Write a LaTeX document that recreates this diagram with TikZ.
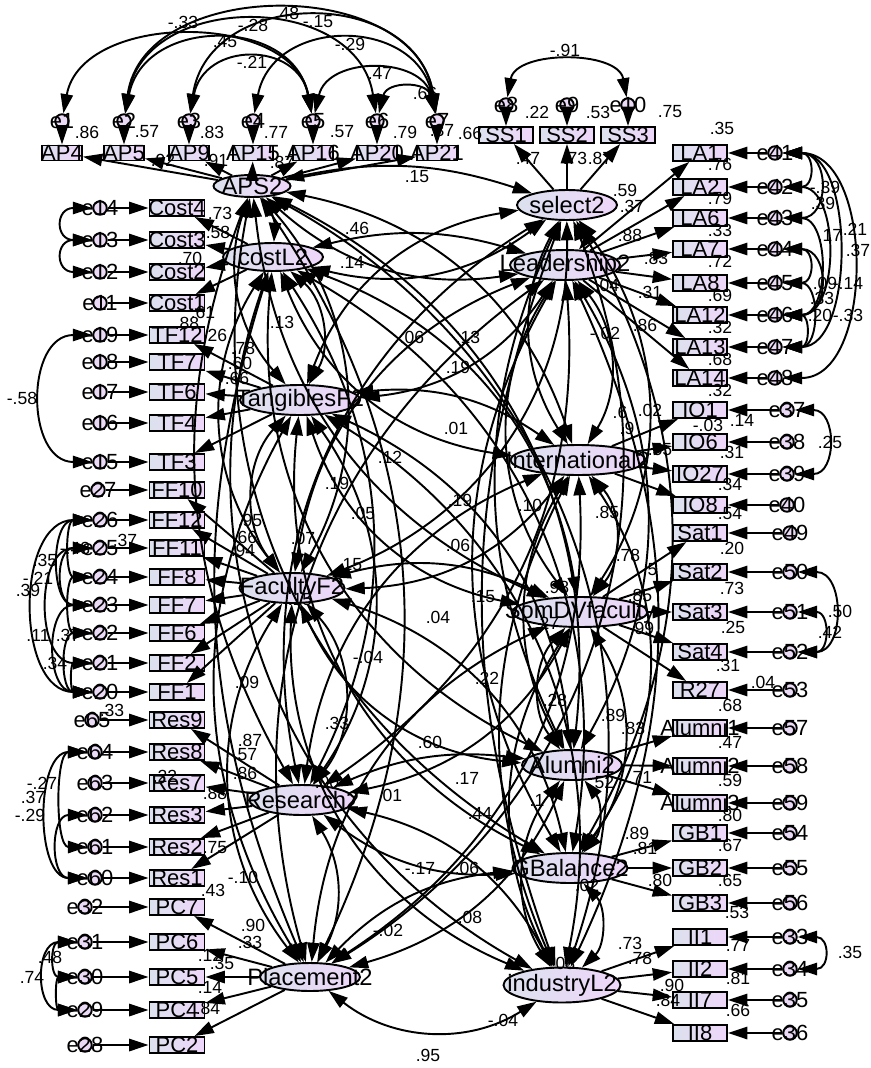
\documentclass[tikz,border=0pt]{standalone}
\usepackage{fontspec}
\setmainfont{Liberation Sans}
\usetikzlibrary{arrows.meta,shapes.geometric,calc}
\definecolor{boxL}{RGB}{220,225,238}
\definecolor{boxR}{RGB}{238,214,250}
\definecolor{errF}{RGB}{234,218,246}
\tikzset{
 x=0.02cm, y=-0.02cm,
 >={Triangle[length=11pt,width=7pt]},
 ln/.style={line width=1.1pt},
 obs/.style={draw, line width=1.1pt, rectangle, inner sep=0pt, minimum height=0.32cm, left color=boxL, right color=boxR},
 obst/.style={font=\fontsize{12.5}{12.5}\selectfont, inner sep=0pt},
 lat/.style={draw, line width=1.1pt, ellipse, inner sep=0pt, left color=boxL, right color=boxR},
 latt/.style={font=\fontsize{13.5}{13.5}\selectfont, inner sep=0pt},
 err/.style={draw, line width=1.1pt, circle, inner sep=0pt, minimum size=0.27cm, fill=errF},
 errt/.style={font=\fontsize{12.5}{12.5}\selectfont, inner sep=0pt},
 lab/.style={font=\fontsize{10}{10}\selectfont, inner sep=0pt},
 pth/.style={ln,->},
 cov/.style={ln,<->},
}
\begin{document}
\begin{tikzpicture}
\fill[white] (0,0) rectangle (871,1068);
\useasboundingbox (0,0) rectangle (871,1068);

% ---------- latent variables ----------
\foreach \n/\x/\y/\w/\h/\t in {
 A/252/186/1.54/0.44/APS2, S/567/205/2.0/0.6/select2, C/273/257/2.0/0.56/costL2,
 L/565/265/2.2/0.6/Leadership2, T/300/400/2.4/0.6/TangiblesF2, I/578/460/2.7/0.6/International2,
 F/292/588/2.1/0.6/FacultyF2, D/580/612/2.7/0.6/SomDVfaculty, Al/572/765/2.0/0.6/Alumni2,
 R/302/800/2.1/0.6/Research2, G/570/868/2.3/0.6/GBalance2, P/310/977/2.0/0.56/Placement2,
 N/562/985/2.34/0.7/industryL2}
{\node[lat,minimum width=\w cm,minimum height=\h cm] (\n) at (\x,\y) {};
 \node[latt] at (\x,\y) {\t};}

% ---------- observed: top AP ----------
\foreach \n/\x [count=\i] in {AP4/62,AP5/124,AP9/189,AP15/253,AP16/313,AP20/377,AP21/437}
{\node[obs,minimum width=0.8cm,minimum height=0.3cm] (\n) at (\x,153) {};
 \node[obst] at (\x,153) {\n};
 \node[err] (e\i) at (\x,121) {}; \node[errt] at (\x,121) {e\i};
 \draw[pth] (e\i) -- (\n);
 \draw[pth] (A) -- (\n);}

% ---------- SS ----------
\foreach \n/\x/\e in {SS1/506/8,SS2/567/9,SS3/628/10}
{\node[obs,minimum width=1.08cm] (\n) at (\x,135) {};
 \node[obst] at (\x,135) {\n};
 \node[err] (e\e) at (\x,105) {}; \node[errt] at (\x,105) {e\e};
 \draw[pth] (e\e) -- (\n);
 \draw[pth] (S) -- (\n);}

% ---------- left indicators ----------
\foreach \n/\y/\e/\ex/\lat in {Cost4/208/14/100/C,Cost3/240/13/100/C,Cost2/272/12/100/C,Cost1/303/11/100/C,
 TF12/335/19/100/T,TF7/362/18/100/T,TF6/392/17/100/T,TF4/423/16/100/T,TF3/462/15/100/T,
 FF10/490/27/98/F,FF12/520/26/100/F,FF11/548/25/100/F,FF8/577/24/100/F,FF7/605/23/100/F,FF6/633/22/100/F,FF2/663/21/100/F,FF1/692/20/100/F,
 Res9/720/65/92/R,Res8/752/64/95/R,Res7/783/63/95/R,Res3/815/62/95/R,Res2/847/61/95/R,Res1/878/60/95/R,
 PC7/907/32/85/P,PC6/942/31/85/P,PC5/977/30/85/P,PC4/1010/29/85/P,PC2/1045/28/85/P}
{\node[obs,minimum width=1.1cm] (\n) at (177,\y) {};
 \node[obst] at (177,\y) {\n};
 \node[err] (e\e) at (\ex,\y) {}; \node[errt] at (\ex,\y) {e\e};
 \draw[pth] (e\e) -- (\n);
 \draw[pth] (\lat) -- (\n);}

% ---------- right indicators ----------
\foreach \n/\y/\e/\ex/\lat in {LA1/153/41/775/L,LA2/187/42/775/L,LA6/218/43/775/L,LA7/249/44/775/L,LA8/283/45/775/L,LA12/315/46/775/L,LA13/347/47/775/L,LA14/378/48/775/L,
 IO1/410/37/787/I,IO6/442/38/787/I,IO27/474/39/787/I,IO8/505/40/787/I,
 Sat1/533/49/790/D,Sat2/572/50/790/D,Sat3/612/51/790/D,Sat4/652/52/790/D,R27/690/53/790/D,
 Alumni1/728/57/790/Al,Alumni2/766/58/790/Al,Alumni3/803/59/790/Al,
 GB1/833/54/790/G,GB2/868/55/790/G,GB3/903/56/790/G,
 II1/937/33/790/N,II2/969/34/790/N,II7/1000/35/790/N,II8/1033/36/790/N}
{\node[obs,minimum width=1.08cm] (\n) at (700,\y) {};
 \node[obst] at (700,\y) {\n};
 \node[err] (e\e) at (\ex,\y) {}; \node[errt] at (\ex,\y) {e\e};
 \draw[pth] (e\e) -- (\n);
 \draw[pth] (\lat) -- (\n);}

% ---------- covariances among latents ----------
\foreach \a/\b/\bb in {
 A/C/20, A/T/-30, A/F/35, A/R/-25, A/P/30, C/T/40, C/F/-35, C/R/30, C/P/-20,
 T/F/-40, T/R/35, T/P/-30, F/R/40, F/P/-35, R/P/30,
 S/L/40, S/I/-30, S/D/35, S/Al/-25, S/G/30, S/N/-20, L/I/35, L/D/-35, L/Al/30,
 L/G/-30, L/N/25, I/D/40, I/Al/-30, I/G/35, I/N/-25, D/Al/-40, D/G/35, D/N/-30,
 Al/G/40, Al/N/-35, G/N/45,
 A/S/15, A/L/-25, A/I/30, A/D/-30, A/Al/35, A/G/-35, A/N/40,
 C/S/-25, C/L/15, C/I/-30, C/D/30, C/Al/-35, C/G/35, C/N/-40,
 T/S/30, T/L/-25, T/I/20, T/D/-30, T/Al/30, T/G/-35, T/N/35,
 F/S/-35, F/L/30, F/I/-25, F/D/20, F/Al/-30, F/G/30, F/N/-35,
 R/S/35, R/L/-30, R/I/30, R/D/-25, R/Al/15, R/G/-20, R/N/25,
 P/S/-40, P/L/35, P/I/-30, P/D/30, P/Al/-25, P/G/20, P/N/-35}
{\draw[cov] (\a) to[bend left=\bb] (\b);}

% ---------- error covariances: top ----------
\draw[cov] (e1) .. controls +(20,-110) and +(-20,-110) .. (e5);
\draw[cov] (e2) .. controls +(20,-105) and +(-20,-105) .. (e5);
\draw[cov] (e2) .. controls +(20,-130) and +(-20,-130) .. (e6);
\draw[cov] (e2) .. controls +(20,-145) and +(-20,-145) .. (e7);
\draw[cov] (e3) .. controls +(15,-80) and +(-15,-80) .. (e5);
\draw[cov] (e3) .. controls +(20,-135) and +(-20,-135) .. (e7);
\draw[cov] (e4) .. controls +(20,-105) and +(-20,-105) .. (e7);
\draw[cov] (e5) .. controls +(15,-65) and +(-15,-65) .. (e7);
\draw[cov] (e6) .. controls +(10,-40) and +(-10,-40) .. (e7);
\draw[cov] (e8) .. controls +(10,-55) and +(-10,-55) .. (e10);

% ---------- error covariances: left ----------
\draw[cov] (e14) .. controls +(-45,0) and +(-45,0) .. (e13);
\draw[cov] (e13) .. controls +(-45,0) and +(-45,0) .. (e12);
\draw[cov] (e19) .. controls +(-75,0) and +(-75,0) .. (e15);
\draw[cov] (e26) .. controls +(-35,0) and +(-35,0) .. (e24);
\draw[cov] (e26) .. controls +(-50,0) and +(-50,0) .. (e23);
\draw[cov] (e26) .. controls +(-85,0) and +(-85,0) .. (e20);
\draw[cov] (e25) .. controls +(-45,0) and +(-45,0) .. (e23);
\draw[cov] (e25) .. controls +(-65,0) and +(-65,0) .. (e21);
\draw[cov] (e24) .. controls +(-35,0) and +(-35,0) .. (e22);
\draw[cov] (e23) .. controls +(-55,0) and +(-55,0) .. (e20);
\draw[cov] (e22) .. controls +(-40,0) and +(-40,0) .. (e20);
\draw[cov] (e21) .. controls +(-30,0) and +(-30,0) .. (e20);
\draw[cov] (e64) .. controls +(-40,0) and +(-40,0) .. (e61);
\draw[cov] (e64) .. controls +(-60,0) and +(-60,0) .. (e60);
\draw[cov] (e62) .. controls +(-45,0) and +(-45,0) .. (e60);
\draw[cov] (e31) .. controls +(-35,0) and +(-35,0) .. (e30);
\draw[cov] (e31) .. controls +(-50,0) and +(-50,0) .. (e29);
\draw[cov] (e30) .. controls +(-30,0) and +(-30,0) .. (e29);

% ---------- error covariances: right ----------
\draw[cov] (e41) .. controls +(40,0) and +(40,0) .. (e42);
\draw[cov] (e41) .. controls +(55,0) and +(55,0) .. (e43);
\draw[cov] (e41) .. controls +(80,0) and +(80,0) .. (e47);
\draw[cov] (e41) .. controls +(100,0) and +(100,0) .. (e48);
\draw[cov] (e42) .. controls +(65,0) and +(65,0) .. (e46);
\draw[cov] (e43) .. controls +(55,0) and +(55,0) .. (e46);
\draw[cov] (e44) .. controls +(40,0) and +(40,0) .. (e45);
\draw[cov] (e44) .. controls +(55,0) and +(55,0) .. (e46);
\draw[cov] (e45) .. controls +(45,0) and +(45,0) .. (e47);
\draw[cov] (e46) .. controls +(35,0) and +(35,0) .. (e47);
\draw[cov] (e37) .. controls +(50,0) and +(50,0) .. (e39);
\draw[cov] (e50) .. controls +(55,0) and +(55,0) .. (e52);
\draw[cov] (e51) .. controls +(40,0) and +(40,0) .. (e52);
\draw[cov] (e33) .. controls +(40,0) and +(40,0) .. (e34);

% ---------- labels ----------
\foreach \x/\y/\t in {
 183/22/-.33, 225/42/.45, 253/25/-.28, 287/13/.48, 318/22/-.15, 350/44/-.29, 252/62/-.21, 380/73/.47, 425/93/.66,
 87/132/.86, 147/132/.57, 212/132/.83, 276/132/.77, 342/132/.57, 405/132/.79, 442/130/.37, 470/133/.66,
 163/160/.92, 216/160/.91, 282/162/.87, 417/177/.15,
 565/50/-.91, 537/112/.22, 598/112/.53, 670/112/.75, 528/158/.47, 575/158/.73, 600/158/.87,
 722/128/.35, 625/190/.59, 632/206/.37, 630/235/.88, 656/258/.83, 650/292/.31, 645/325/.86,
 720/164/.76, 720/198/.79, 720/230/.33, 720/261/.72, 720/295/.69, 720/327/.32, 720/359/.68, 720/390/.32,
 825/187/-.39, 823/203/.39, 830/235/.17, 855/229/.21, 858/250/.37, 825/283/.09, 848/283/-.14, 822/298/.33, 820/315/.20, 848/315/-.33,
 742/420/.14, 708/425/-.03, 732/452/.31, 730/484/.34, 730/514/.54, 830/442/.25,
 620/412/.6, 650/410/.02, 627/428/.9, 660/450/.55,
 732/548/.20, 732/588/.73, 733/627/.25, 728/665/.31, 840/611/.50, 830/632/.42,
 763/682/.04, 730/705/.68, 730/742/.47, 730/780/.59, 730/815/.80,
 730/845/.67, 730/880/.65, 737/912/.53, 738/945/.77, 738/978/.81, 738/1010/.66, 850/952/.35,
 628/555/.78, 650/570/.5, 640/595/.85, 642/628/.99,
 613/715/.89, 633/728/.83, 640/777/.71, 637/833/.89, 645/848/.81, 660/880/.80,
 630/943/.73, 640/958/.78, 672/985/.90, 668/1000/.84,
 220/213/.73, 218/232/.58, 190/258/.70, 203/312/.61, 187/323/.88, 215/335/.26, 243/348/.78, 240/363/.60, 237/378/.66,
 22/398/-.58, 250/520/.95, 245/537/.66, 243/550/.94, 247/682/.09,
 75/548/-.43, 125/540/.37, 45/560/.35, 38/578/-.21, 28/590/.39, 38/635/.11, 68/635/.37, 55/663/.34,
 112/710/.33, 165/776/.22, 42/783/-.27, 33/797/.37, 30/815/-.29,
 250/740/.87, 245/755/.57, 245/773/.86, 215/793/.88, 215/848/.75, 213/890/.43, 243/877/-.10,
 253/925/.90, 250/942/.33, 210/955/.12, 222/963/.35, 210/987/.14, 208/1008/.84, 50/957/.48, 32/977/.74,
 282/322/.13, 357/228/.46, 352/262/.14, 412/337/.06, 468/337/.13, 458/367/.19, 456/428/.01, 390/457/.12,
 337/483/.19, 460/500/.19, 530/505/.10, 607/512/.85, 363/513/.05, 303/538/.07, 458/545/.06,
 350/565/.15, 557/587/.98, 483/597/.15, 438/617/.04, 547/623/.27, 300/600/.15, 368/657/-.04, 487/678/.22,
 555/700/.28, 337/723/.33, 430/742/.60, 327/782/.00, 467/778/.17, 602/782/.52, 390/795/.01,
 480/813/.44, 537/800/.1, 420/868/-.17, 467/868/.06, 587/885/.02, 470/917/.08, 388/930/-.02,
 563/963/.08, 503/1020/-.04, 428/1055/.95, 605/333/-.02, 607/285/.04}
{\node[lab] at (\x,\y) {\t};}
\end{tikzpicture}
\end{document}
